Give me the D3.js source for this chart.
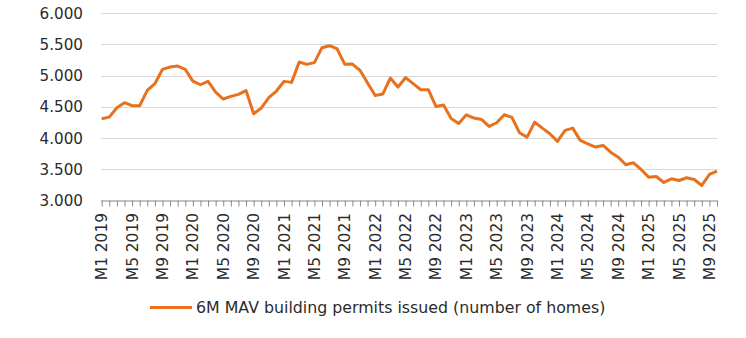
<!DOCTYPE html>
<html>
<head>
<meta charset="utf-8">
<script src="https://cdn.jsdelivr.net/npm/d3@7/dist/d3.min.js"></script>
<style>
  html, body { margin: 0; padding: 0; background: #fff; }
  svg { display: block; font-family: "DejaVu Sans", sans-serif; }
</style>
</head>
<body>
<svg id="chart" width="746" height="338"></svg>
<script>
// Monthly categories M1 2019 .. M10 2025
const years = [2019, 2020, 2021, 2022, 2023, 2024, 2025];
const categories = [];
years.forEach(y => { for (let m = 1; m <= 12; m++) { if (y === 2025 && m > 10) break; categories.push("M" + m + " " + y); } });

// 6M MAV building permits issued (number of homes)
const permits = [
  4310, 4336, 4487, 4567, 4519, 4519, 4765, 4872, 5102, 5139, 5155, 5102,
  4914, 4855, 4909, 4738, 4626, 4668, 4701, 4762, 4390, 4481, 4647, 4754,
  4909, 4893, 5219, 5182, 5209, 5449, 5481, 5428, 5182, 5187, 5086, 4882,
  4684, 4706, 4963, 4818, 4968, 4872, 4775, 4775, 4508, 4529, 4316, 4235,
  4374, 4321, 4299, 4187, 4246, 4374, 4332, 4086, 4016, 4256, 4160, 4069,
  3947, 4123, 4160, 3963, 3909, 3856, 3882, 3775, 3695, 3572, 3604, 3497,
  3374, 3385, 3289, 3348, 3321, 3364, 3337, 3241, 3417, 3470
];

const yTicks = [3000, 3500, 4000, 4500, 5000, 5500, 6000];
const seriesName = "6M MAV building permits issued (number of homes)";

const svg = d3.select("#chart");
const x = d3.scalePoint().domain(categories).range([101.7, 717]);
const y = d3.scaleLinear().domain([3000, 6000]).range([200.5, 13.3]);
const fmt = v => d3.format(",")(v).replace(/,/g, ".");

// gridlines
svg.append("g").selectAll("line").data(yTicks.filter(t => t > 3000)).join("line")
  .attr("x1", 101).attr("x2", 717.5)
  .attr("y1", d => Math.round(y(d)) + 0.5).attr("y2", d => Math.round(y(d)) + 0.5)
  .attr("stroke", "#d9d9d9").attr("stroke-width", 1);

// y labels
svg.append("g").selectAll("text").data(yTicks).join("text")
  .attr("x", 83).attr("y", d => y(d)).attr("dy", "0.36em")
  .attr("text-anchor", "end").attr("font-size", 15.2).attr("fill", "#2b2b2b")
  .text(fmt);

// x axis
const xAxis = d3.axisBottom(x).tickSize(6).tickFormat("");
const gx = svg.append("g").attr("transform", "translate(0," + 200.5 + ")").call(xAxis);
gx.select(".domain").attr("stroke", "#8a8a8a").attr("d", "M101.2,0.5H717.5");
gx.selectAll(".tick line").attr("stroke", "#8a8a8a");

// x labels every 4 months
svg.append("g").selectAll("text").data(categories.filter((c, i) => i % 4 === 0)).join("text")
  .attr("transform", d => "translate(" + x(d) + ",213) rotate(-90)")
  .attr("text-anchor", "end").attr("dy", "0.36em")
  .attr("font-size", 15.4).attr("fill", "#2b2b2b").text(d => d);

// line
const line = d3.line().x((d, i) => x(categories[i])).y(d => y(d));
svg.append("path").datum(permits)
  .attr("d", line).attr("fill", "none")
  .attr("stroke", "#e8711e").attr("stroke-width", 3).attr("stroke-linejoin", "round");

// legend
const lg = svg.append("g");
lg.append("line").attr("x1", 150).attr("x2", 192).attr("y1", 307.5).attr("y2", 307.5)
  .attr("stroke", "#e8711e").attr("stroke-width", 3);
lg.append("text").attr("x", 196).attr("y", 307.5).attr("dy", "0.36em")
  .attr("font-size", 15.8).attr("fill", "#2b2b2b").text(seriesName);
</script>
</body>
</html>
